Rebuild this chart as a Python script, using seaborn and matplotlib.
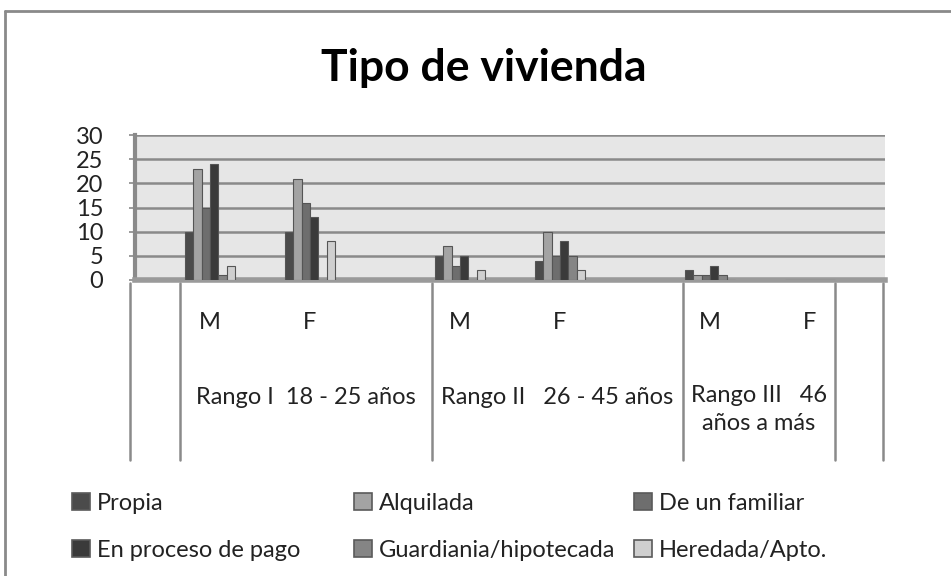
import numpy as np
import pandas as pd
import matplotlib
matplotlib.use("Agg")
import matplotlib.pyplot as plt
from matplotlib.patches import Patch
from matplotlib.lines import Line2D
import matplotlib.transforms as mtransforms
import seaborn as sns

# ---- data ----
tipos = ["Propia", "Alquilada", "De un familiar", "En proceso de pago",
         "Guardiania/hipotecada", "Heredada/Apto."]
rangos = ["Rango I  18 - 25 años", "Rango II   26 - 45 años", "Rango III   46\naños a más"]
sexos = ["M", "F"]
rango1_M = [10, 23, 15, 24, 1, 3]
rango1_F = [10, 21, 16, 13, 0, 8]
rango2_M = [5, 7, 3, 5, 0, 2]
rango2_F = [4, 10, 5, 8, 5, 2]
rango3_M = [2, 1, 1, 3, 1, 0]
rango3_F = [0, 0, 0, 0, 0, 0]
yticks = [0, 5, 10, 15, 20, 25, 30]

valores = [[rango1_M, rango1_F], [rango2_M, rango2_F], [rango3_M, rango3_F]]
colores = ["#4b4b4b", "#a3a3a3", "#6e6e6e", "#3a3a3a", "#858585", "#cfcfcf"]

rows = []
for gi, rango in enumerate(rangos):
    for si, sexo in enumerate(sexos):
        for ti, tipo in enumerate(tipos):
            rows.append({"pos": gi * 2.5 + si, "tipo": tipo, "valor": valores[gi][si][ti]})
df = pd.DataFrame(rows)

sns.set_theme(style="white")
plt.rcParams["font.family"] = ["Lato", "DejaVu Sans"]

W, H = 951, 576
FS = 17
fig = plt.figure(figsize=(W / 100, H / 100), dpi=100)
L, R, T, B = 135, 885, 135, 280
ax = fig.add_axes([L / W, 1 - B / H, (R - L) / W, (B - T) / H])
ax.set_facecolor("#e6e6e6")

sns.barplot(data=df, x="pos", y="valor", hue="tipo", hue_order=tipos,
            palette=colores, native_scale=True, width=0.5, dodge=True,
            edgecolor="#555555", linewidth=0.8, legend=False, ax=ax, zorder=3)

ax.set_xlim(-0.75, 6.75)
ax.set_ylim(0, 30)
ax.set_yticks(yticks)
ax.set_yticklabels([str(v) for v in yticks], fontsize=FS, color="#222222")
ax.set_xticks([])
ax.set_xlabel("")
ax.set_ylabel("")
ax.tick_params(axis="y", length=4, width=1.2, color="#8a8a8a", pad=19, left=True)
for y in yticks[1:]:
    ax.axhline(y, color="#8a8a8a", lw=1.8, zorder=1)
for side in ["top", "right"]:
    ax.spines[side].set_visible(False)
ax.spines["left"].set_color("#8a8a8a")
ax.spines["left"].set_linewidth(3)
ax.spines["bottom"].set_color("#9a9a9a")
ax.spines["bottom"].set_linewidth(4)

# category table below the axis
trans = mtransforms.blended_transform_factory(ax.transData, ax.transAxes)
for xv in [-0.8, -0.3, 2.22, 4.73, 6.25, 6.73]:
    ax.add_line(Line2D([xv, xv], [-0.02, -1.24], transform=trans, color="#8a8a8a",
                       lw=1.8, clip_on=False))
for gi in range(len(rangos)):
    for si, sexo in enumerate(sexos):
        ax.text(gi * 2.5 + si, -0.29, sexo, transform=trans, ha="center", va="center",
                fontsize=FS, color="#222222")
centros = [0.96, 3.47, 5.49]
for c, rango in zip(centros, rangos):
    if "\n" in rango:
        ax.text(c, -0.725, rango, transform=trans, ha="center", va="top",
                fontsize=FS, color="#222222", linespacing=1.4)
    else:
        ax.text(c, -0.81, rango, transform=trans, ha="center", va="center",
                fontsize=FS, color="#222222")

# title
fig.text(484 / W, 1 - 68 / H, "Tipo de vivienda", ha="center", va="center",
         fontsize=32, fontweight="bold", color="black")

# legend (row-wise, three columns)
handles = [Patch(facecolor=c, edgecolor="#5a5a5a", linewidth=1.2) for c in colores]
col_x = [72, 354, 634]
for ci in range(3):
    idx = [ci, ci + 3]
    leg = fig.legend([handles[i] for i in idx], [tipos[i] for i in idx],
                     loc="upper left", bbox_to_anchor=(col_x[ci] / W, 1 - 493 / H),
                     frameon=False, fontsize=FS, handlelength=0.75, handleheight=0.75,
                     handletextpad=0.3, labelspacing=1.1, borderaxespad=0, borderpad=0)
    for t in leg.get_texts():
        t.set_color("#222222")

# outer border (top and left only)
fig.add_artist(Line2D([5 / W, 1], [1 - 11 / H, 1 - 11 / H], transform=fig.transFigure,
                      color="#8a8a8a", lw=2))
fig.add_artist(Line2D([5 / W, 5 / W], [0, 1 - 11 / H], transform=fig.transFigure,
                      color="#8a8a8a", lw=2))

fig.savefig("out.png", dpi=100, facecolor="white")
